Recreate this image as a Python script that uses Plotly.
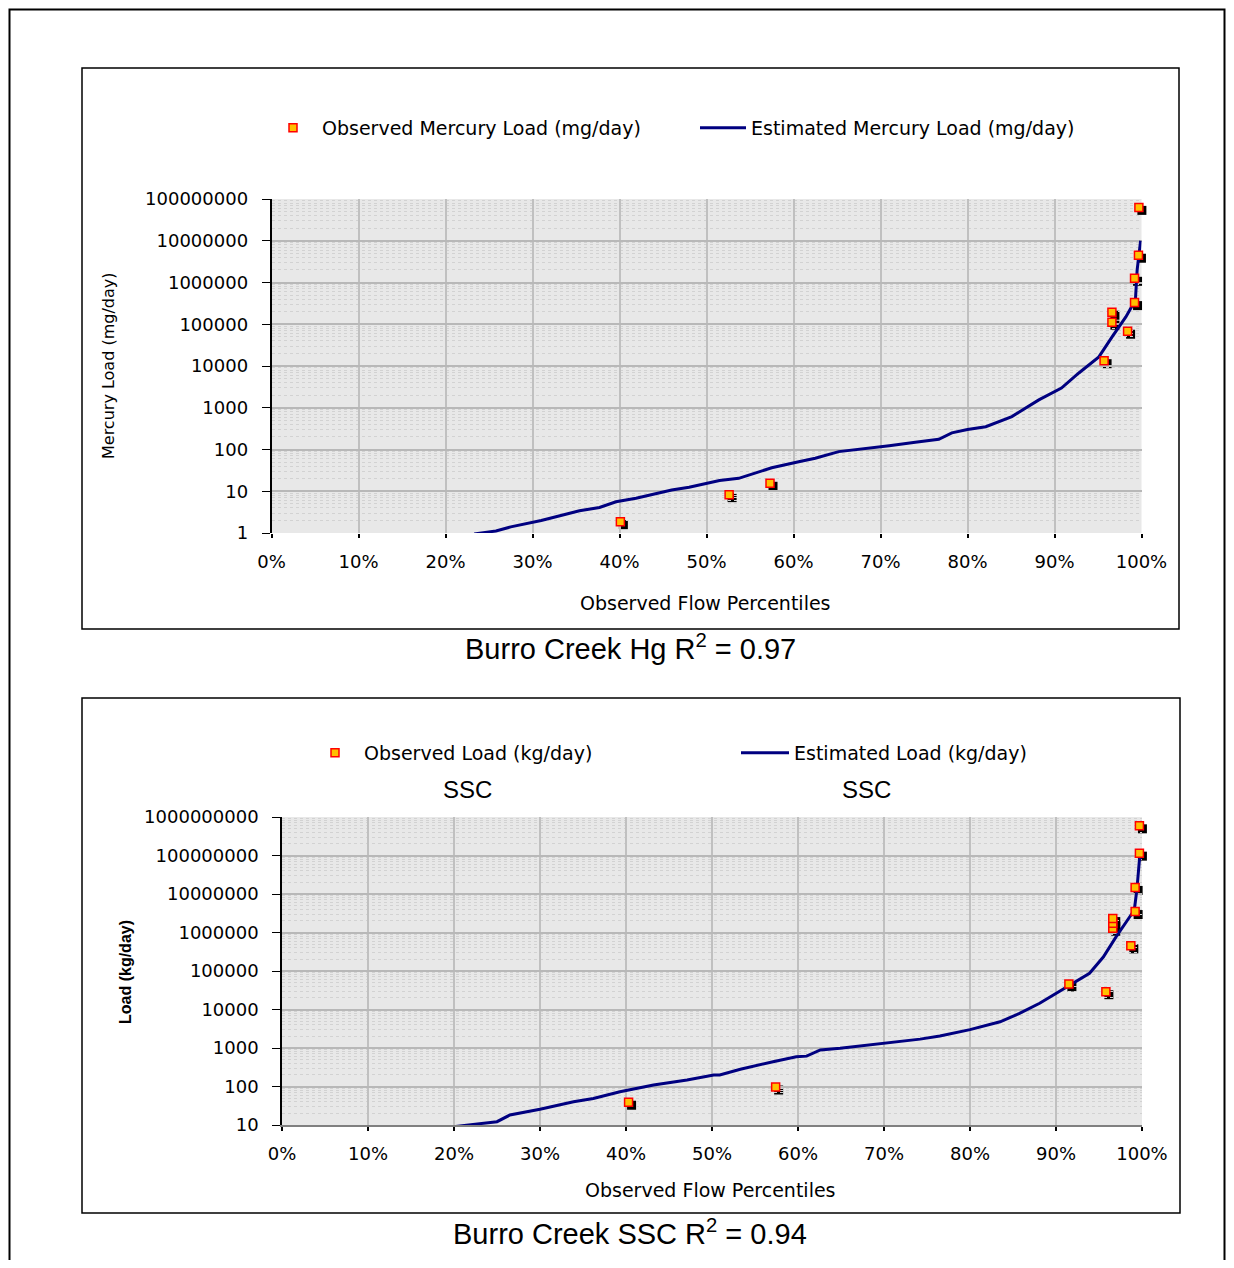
import plotly.graph_objects as go

# ---------------- data ----------------
# Burro Creek Hg: estimated load curve (flow percentile %, mg/day)
est_hg_pct = [23.3, 25.8, 27.5, 29.6, 31.0, 32.7, 35.4, 37.7, 39.6, 41.9, 44.0, 46.0, 48.0, 49.9,
              51.5, 53.7, 55.5, 57.5, 60.6, 62.5, 65.2, 67.9, 71.0, 74.0, 76.7, 78.2, 80.0, 82.1,
              85.1, 88.2, 90.8, 92.8, 95.1, 96.6, 98.2, 99.3, 99.5, 99.9]
est_hg_load = [0.95, 1.12, 1.4, 1.7, 2.0, 2.46, 3.4, 4.1, 5.6, 6.8, 8.5, 10.7, 12.5, 14.9,
               18, 20.4, 27, 36.6, 51, 62, 89, 103, 123, 150, 175, 250, 300, 352,
               614, 1540, 2960, 6800, 16500, 49000, 150000, 380000, 2.0e6, 1.0e7]
# Burro Creek Hg: observed loads
obs_hg_pct = [40.1, 52.6, 57.3, 95.7, 96.6, 96.6, 98.4, 99.2, 99.2, 99.65, 99.7]
obs_hg_load = [1.87, 8.3, 15.5, 13400, 112000, 194000, 68000, 330000, 1260000, 4500000, 63000000]

# Burro Creek SSC: estimated load curve (kg/day)
est_ssc_pct = [20.1, 21.9, 25.0, 26.5, 30.0, 33.9, 36.2, 39.3, 43.2, 47.1, 50.2, 50.9, 53.3, 57.1,
               59.8, 61.0, 62.6, 64.9, 70.0, 74.2, 76.5, 80.0, 83.5, 85.7, 88.1, 91.6, 93.9, 95.5,
               97.0, 98.6, 99.1, 99.4, 99.7, 99.9]
est_ssc_load = [9.1, 10, 12.2, 18.2, 25.6, 40, 49, 73, 109, 147, 199, 199, 280, 440,
                590, 615, 890, 980, 1300, 1700, 2040, 3000, 4800, 7800, 14500, 43000, 87000, 230000,
                780000, 2.6e6, 3.8e6, 1.26e7, 7.6e7, 1.03e8]
# Burro Creek SSC: observed loads
obs_ssc_pct = [40.3, 57.4, 91.5, 95.8, 96.6, 96.6, 96.6, 98.7, 99.2, 99.2, 99.7, 99.7]
obs_ssc_load = [39, 97, 46000, 29000, 1290000, 1740000, 2300000, 450000, 3500000, 14800000,
                115000000, 590000000]

x_ticks = list(range(0, 101, 10))
hg_y_ticks = [10 ** k for k in range(0, 9)]
ssc_y_ticks = [10 ** k for k in range(1, 10)]

# ---------------- layout helpers ----------------
# The page body adds an 8px margin on every side; the figure is sized so that it
# fits inside the window (no scrollbars) and window positions (px) are converted
# into figure paper units.
OFF = 8
W, H = 1234 - 2 * OFF, 1268 - 2 * OFF


def fx(px):
    return (px - OFF) / W


def fy(py):
    return 1 - (py - OFF) / H


TICK_FONT = dict(family="DejaVu Sans", size=18, color="black")
LEG_FONT = dict(family="DejaVu Sans", size=19, color="black")
NAVY = "#000080"
FILL = "#FFC000"
EDGE = "#FF0000"

# plot areas in window px: (left, right, top, bottom)
HG_AREA = (271.5, 1141.5, 199, 533)
SSC_AREA = (282, 1142, 817, 1125)
SH = 3  # marker shadow offset (px)

fig = go.Figure()

# ---- shadows (drawn on offset hidden axes so they sit below the real markers) ----
fig.add_trace(go.Scatter(x=obs_hg_pct, y=obs_hg_load, xaxis="x", yaxis="y", mode="markers",
                         marker=dict(symbol="square", size=9, color="black", line=dict(width=0)),
                         cliponaxis=False, showlegend=False, hoverinfo="skip"))
fig.add_trace(go.Scatter(x=obs_ssc_pct, y=obs_ssc_load, xaxis="x2", yaxis="y2", mode="markers",
                         marker=dict(symbol="square", size=9, color="black", line=dict(width=0)),
                         cliponaxis=False, showlegend=False, hoverinfo="skip"))

# ---- Hg chart ----
fig.add_trace(go.Scatter(x=est_hg_pct, y=est_hg_load, xaxis="x3", yaxis="y3", mode="lines",
                         line=dict(color=NAVY, width=3), name="Estimated Mercury Load (mg/day)",
                         legend="legend2"))
fig.add_trace(go.Scatter(x=obs_hg_pct, y=obs_hg_load, xaxis="x3", yaxis="y3", mode="markers",
                         marker=dict(symbol="square", size=8, color=FILL, line=dict(color=EDGE, width=1.5)),
                         cliponaxis=False, name="Observed Mercury Load (mg/day)", legend="legend"))

# ---- SSC chart ----
fig.add_trace(go.Scatter(x=est_ssc_pct, y=est_ssc_load, xaxis="x4", yaxis="y4", mode="lines",
                         line=dict(color=NAVY, width=3), name="Estimated Load (kg/day)",
                         legend="legend4"))
fig.add_trace(go.Scatter(x=obs_ssc_pct, y=obs_ssc_load, xaxis="x4", yaxis="y4", mode="markers",
                         marker=dict(symbol="square", size=8, color=FILL, line=dict(color=EDGE, width=1.5)),
                         cliponaxis=False, name="Observed Load (kg/day)", legend="legend3"))


def xdom(area, dx=0):
    return [fx(area[0] + dx), fx(area[1] + dx)]


def ydom(area, dy=0):
    return [fy(area[3] + dy), fy(area[2] + dy)]


hidden = dict(visible=False, showgrid=False, zeroline=False, fixedrange=True, automargin=False)


def x_main(area, showline):
    return dict(domain=xdom(area), range=[0, 100], tickvals=x_ticks,
                ticktext=[f"{v}%" for v in x_ticks], ticks="outside", ticklen=4,
                tickcolor="black", tickwidth=2, tickfont=TICK_FONT, ticklabelstandoff=8,
                showgrid=True, gridcolor="#c0c0c0", gridwidth=2, zeroline=False,
                showline=showline, linecolor="#808080", linewidth=1.5, automargin=False)


def y_main(area, ticks, rng):
    return dict(domain=ydom(area), type="log", range=rng, tickvals=ticks,
                ticktext=[str(v) for v in ticks], ticks="outside", ticklen=8,
                tickcolor="black", tickwidth=1, tickfont=TICK_FONT, ticklabelstandoff=10,
                showgrid=True, gridcolor="#b8b8b8", gridwidth=2, zeroline=False,
                showline=True, linecolor="black", linewidth=1.5, automargin=False,
                minor=dict(dtick="D1", showgrid=True, gridcolor="#d2d2d2", griddash="dot",
                           gridwidth=1, ticks=""))


LEG_COMMON = dict(xanchor="left", yanchor="middle", font=LEG_FONT, bgcolor="rgba(0,0,0,0)")

fig.update_layout(
    width=W, height=H, margin=dict(l=0, r=0, t=0, b=0, pad=0, autoexpand=False),
    paper_bgcolor="white", plot_bgcolor="rgba(0,0,0,0)",
    xaxis=dict(domain=xdom(HG_AREA, SH), range=[0, 100], anchor="y", **hidden),
    yaxis=dict(domain=ydom(HG_AREA, SH), type="log", range=[0, 8], anchor="x", **hidden),
    xaxis2=dict(domain=xdom(SSC_AREA, SH), range=[0, 100], anchor="y2", **hidden),
    yaxis2=dict(domain=ydom(SSC_AREA, SH), type="log", range=[1, 9], anchor="x2", **hidden),
    xaxis3=dict(anchor="y3", **x_main(HG_AREA, False)),
    yaxis3=dict(anchor="x3", **y_main(HG_AREA, hg_y_ticks, [0, 8])),
    xaxis4=dict(anchor="y4", **x_main(SSC_AREA, True)),
    yaxis4=dict(anchor="x4", **y_main(SSC_AREA, ssc_y_ticks, [1, 9])),
    showlegend=True,
    legend=dict(x=fx(264), y=fy(128), itemwidth=48, **LEG_COMMON),
    legend2=dict(x=fx(695), y=fy(128), itemwidth=46, **LEG_COMMON),
    legend3=dict(x=fx(306), y=fy(753), itemwidth=48, **LEG_COMMON),
    legend4=dict(x=fx(736), y=fy(753), itemwidth=48, **LEG_COMMON),
)

shapes = []
# page border (open at the bottom, like the reference)
shapes.append(dict(type="rect", xref="paper", yref="paper", x0=fx(9.5), x1=fx(1224.5), y0=fy(1290), y1=fy(9.5),
                   line=dict(color="black", width=2), fillcolor="rgba(0,0,0,0)", layer="below"))
# chart boxes
for (l, r, t, b) in [(82, 1179, 68, 629), (82, 1180, 698, 1213)]:
    shapes.append(dict(type="rect", xref="paper", yref="paper", x0=fx(l), x1=fx(r), y0=fy(b), y1=fy(t),
                       line=dict(color="black", width=1.5), fillcolor="rgba(0,0,0,0)", layer="below"))
# plot-area backgrounds
for area in (HG_AREA, SSC_AREA):
    shapes.append(dict(type="rect", xref="paper", yref="paper", x0=fx(area[0]), x1=fx(area[1]),
                       y0=fy(area[3]), y1=fy(area[2]), line=dict(width=0), fillcolor="#e8e8e8",
                       layer="below"))
fig.update_layout(shapes=shapes)

ann = []
ann.append(dict(text="Mercury Load (mg/day)", x=fx(108), y=fy(366), textangle=-90,
                font=dict(family="DejaVu Sans", size=16, color="black")))
ann.append(dict(text="Observed Flow Percentiles", x=fx(705), y=fy(603),
                font=dict(family="DejaVu Sans", size=19, color="black")))
ann.append(dict(text="Burro Creek Hg R<sup>2</sup> = 0.97", x=fx(630), y=fy(647),
                font=dict(family="Liberation Sans", size=29, color="black")))
ann.append(dict(text="SSC", x=fx(467), y=fy(789),
                font=dict(family="Liberation Sans", size=24, color="black")))
ann.append(dict(text="SSC", x=fx(866), y=fy(789),
                font=dict(family="Liberation Sans", size=24, color="black")))
ann.append(dict(text="<b>Load (kg/day)</b>", x=fx(125), y=fy(972), textangle=-90,
                font=dict(family="Liberation Sans", size=16, color="black")))
ann.append(dict(text="Observed Flow Percentiles", x=fx(710), y=fy(1190),
                font=dict(family="DejaVu Sans", size=19, color="black")))
ann.append(dict(text="Burro Creek SSC R<sup>2</sup> = 0.94", x=fx(630), y=fy(1232),
                font=dict(family="Liberation Sans", size=29, color="black")))
for a in ann:
    a.update(xref="paper", yref="paper", showarrow=False, xanchor="center", yanchor="middle")
fig.update_layout(annotations=ann)

fig.write_html("out.html")
